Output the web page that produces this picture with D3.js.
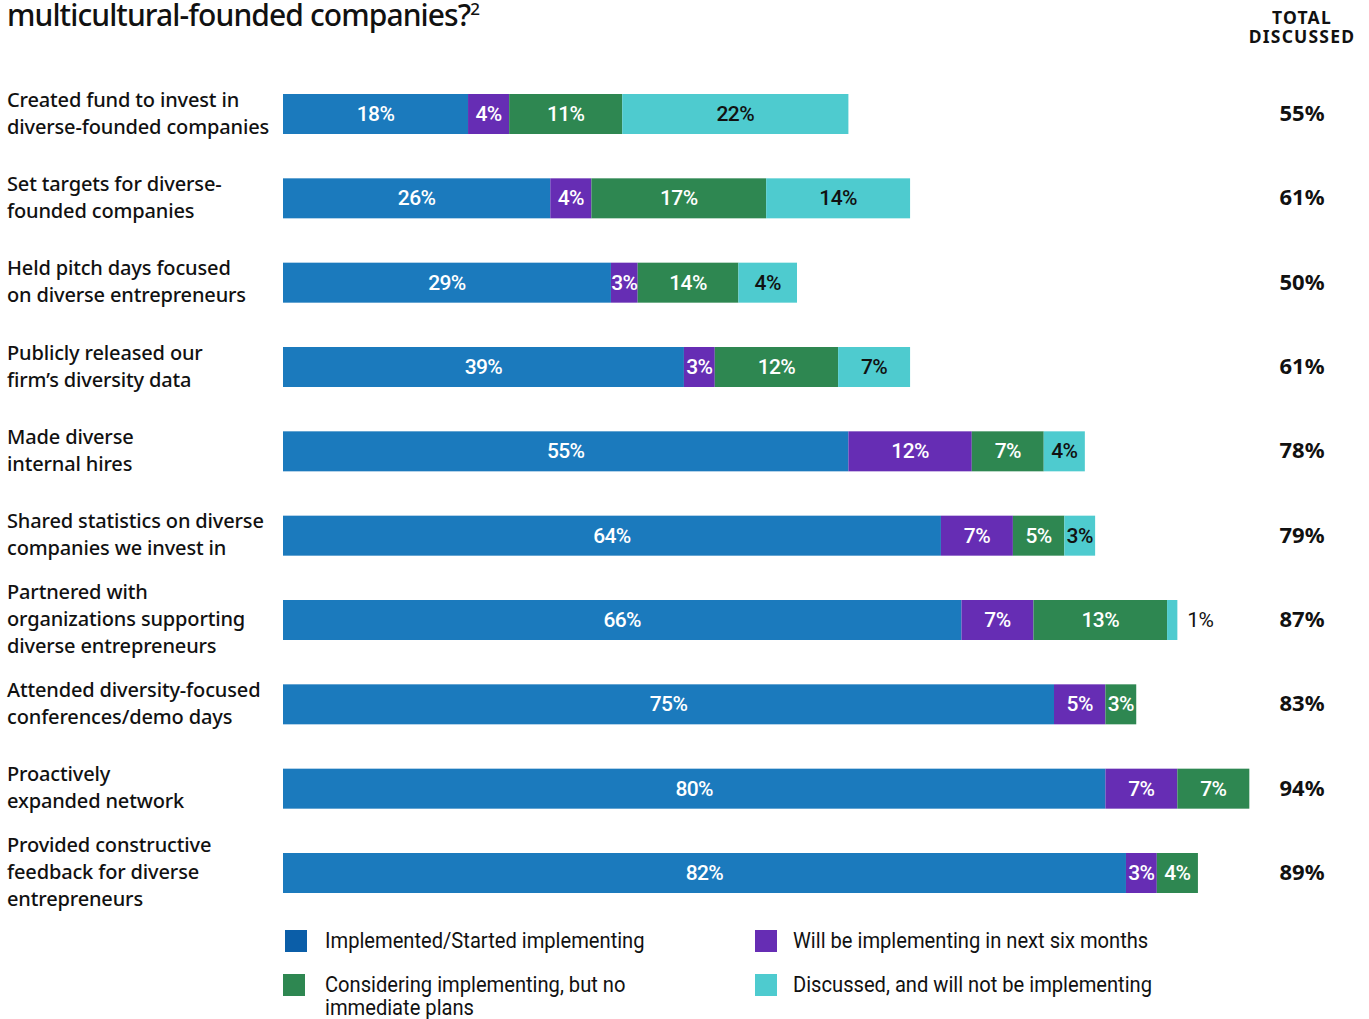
<!DOCTYPE html>
<html>
<head>
<meta charset="utf-8">
<script src="https://cdn.jsdelivr.net/npm/d3@7"></script>
<style>
  body { margin: 0; background: #fff; }
  svg { display: block; }
</style>
</head>
<body>
<div id="chart"></div>
<script>
// rows, top to bottom
var categories = [
    ["Created fund to invest in", "diverse-founded companies"],
    ["Set targets for diverse-", "founded companies"],
    ["Held pitch days focused", "on diverse entrepreneurs"],
    ["Publicly released our", "firm\u2019s diversity data"],
    ["Made diverse", "internal hires"],
    ["Shared statistics on diverse", "companies we invest in"],
    ["Partnered with", "organizations supporting", "diverse entrepreneurs"],
    ["Attended diversity-focused", "conferences/demo days"],
    ["Proactively", "expanded network"],
    ["Provided constructive", "feedback for diverse", "entrepreneurs"]
];

// segment lengths as drawn (row 3 is drawn wider than its printed numbers)
var implemented = [18, 26, 31.9, 39, 55, 64, 66, 75, 80, 82];
var upcoming    = [4, 4, 2.6, 3, 12, 7, 7, 5, 7, 3];
var considering = [11, 17, 9.8, 12, 7, 5, 13, 3, 7, 4];
var declined    = [22, 14, 5.7, 7, 4, 3, 1, 0, 0, 0];

// numbers printed on the segments
var implementedLabels = [18, 26, 29, 39, 55, 64, 66, 75, 80, 82];
var upcomingLabels    = [4, 4, 3, 3, 12, 7, 7, 5, 7, 3];
var consideringLabels = [11, 17, 14, 12, 7, 5, 13, 3, 7, 4];
var declinedLabels    = [22, 14, 4, 7, 4, 3, 1, 0, 0, 0];

var totals = [55, 61, 50, 61, 78, 79, 87, 83, 94, 89];

var seriesNames = [
    "Implemented/Started implementing",
    "Will be implementing in next six months",
    "Considering implementing, but no immediate plans",
    "Discussed, and will not be implementing"
];
var barColors = ["#1b7abd", "#662db4", "#2e8751", "#4ecbcf"];
var legendColors = ["#0b5ea8", "#662db4", "#2e8751", "#4ecbcf"];
var labelColors = ["#fff", "#fff", "#fff", "#111"];

var w = 1369;
var h = 1019;
var barH = 40;

var svg = d3.select("#chart")
    .append("svg")
    .attr("width", w)
    .attr("height", h);

var xscale = d3.scaleLinear()
    .domain([0, 100])
    .range([283, 283 + 1028]);

var yscale = d3.scalePoint()
    .domain(d3.range(categories.length))
    .range([114, 873]);

// title (cut off at the top in the original)
var title = svg.append("text")
    .attr("x", 7)
    .attr("y", 26)
    .attr("font-family", "'Noto Sans', sans-serif")
    .attr("font-size", "30px")
    .attr("font-weight", 500)
    .attr("letter-spacing", "-0.9px")
    .attr("fill", "#111");
title.append("tspan").text("multicultural-founded companies?");
title.append("tspan")
    .attr("font-size", "17px")
    .attr("dy", "-11")
    .attr("letter-spacing", "0")
    .text("2");

svg.selectAll(".head")
    .data(["TOTAL", "DISCUSSED"])
    .enter()
    .append("text")
    .attr("x", 1302)
    .attr("y", function(d, i) { return 24 + i * 19; })
    .attr("text-anchor", "middle")
    .attr("font-family", "'Noto Sans', sans-serif")
    .attr("font-size", "17.5px")
    .attr("font-weight", 700)
    .attr("letter-spacing", "1.2px")
    .attr("fill", "#111")
    .text(function(d) { return d; });

// category labels
var catG = svg.selectAll(".cat")
    .data(categories)
    .enter()
    .append("text")
    .attr("class", "cat")
    .attr("font-family", "'Noto Sans', sans-serif")
    .attr("font-size", "20px")
    .attr("font-weight", 500)
    .attr("letter-spacing", "-0.15px")
    .attr("fill", "#111");

catG.selectAll("tspan")
    .data(function(d, i) {
        return d.map(function(line, j) {
            return { line: line, j: j, n: d.length, row: i };
        });
    })
    .enter()
    .append("tspan")
    .attr("x", 7)
    .attr("y", function(d) {
        return yscale(d.row) + (d.j - (d.n - 1) / 2) * 27 + 6;
    })
    .text(function(d) { return d.line; });

// stack the segments
var rows = categories.map(function(c, i) {
    return {
        row: i,
        values: [implemented[i], upcoming[i], considering[i], declined[i]],
        labels: [implementedLabels[i], upcomingLabels[i], consideringLabels[i], declinedLabels[i]]
    };
});
var segs = [];
rows.forEach(function(r) {
    var x0 = 0;
    r.values.forEach(function(v, k) {
        if (v > 0) {
            segs.push({ row: r.row, k: k, x0: x0, x1: x0 + v, label: r.labels[k] });
        }
        x0 += v;
    });
});

svg.selectAll("rect.seg")
    .data(segs)
    .enter()
    .append("rect")
    .attr("class", "seg")
    .attr("x", function(d) { return xscale(d.x0); })
    .attr("y", function(d) { return yscale(d.row) - barH / 2; })
    .attr("width", function(d) { return xscale(d.x1) - xscale(d.x0); })
    .attr("height", barH)
    .attr("fill", function(d) { return barColors[d.k]; });

svg.selectAll("text.seglabel")
    .data(segs)
    .enter()
    .append("text")
    .attr("class", "seglabel")
    .attr("x", function(d) {
        if (d.x1 - d.x0 < 2) {
            return xscale(d.x1) + 10;
        }
        return (xscale(d.x0) + xscale(d.x1)) / 2;
    })
    .attr("y", function(d) { return yscale(d.row) + 7; })
    .attr("text-anchor", function(d) {
        return (d.x1 - d.x0 < 2) ? "start" : "middle";
    })
    .attr("font-family", "Roboto, sans-serif")
    .attr("font-size", "21px")
    .attr("font-weight", function(d) {
        return (d.x1 - d.x0 < 2) ? 400 : 500;
    })
    .attr("letter-spacing", "-0.6px")
    .attr("fill", function(d) {
        return (d.x1 - d.x0 < 2) ? "#111" : labelColors[d.k];
    })
    .text(function(d) { return d.label + "%"; });

// totals
svg.selectAll("text.total")
    .data(totals)
    .enter()
    .append("text")
    .attr("class", "total")
    .attr("x", 1302)
    .attr("y", function(d, i) { return yscale(i) + 7; })
    .attr("text-anchor", "middle")
    .attr("font-family", "'Noto Sans', sans-serif")
    .attr("font-size", "22px")
    .attr("font-weight", 700)
    .attr("fill", "#111")
    .text(function(d) { return d + "%"; });

// legend
var legendBox = [[285, 930], [755, 930], [283, 974], [755, 974]];
var legendTextX = [325, 793, 325, 793];
var legendLines = [
    [seriesNames[0]],
    [seriesNames[1]],
    ["Considering implementing, but no", "immediate plans"],
    [seriesNames[3]]
];

svg.selectAll("rect.legend")
    .data(seriesNames)
    .enter()
    .append("rect")
    .attr("class", "legend")
    .attr("x", function(d, i) { return legendBox[i][0]; })
    .attr("y", function(d, i) { return legendBox[i][1]; })
    .attr("width", 22)
    .attr("height", 22)
    .attr("fill", function(d, i) { return legendColors[i]; });

// the legend type is a narrow face, so squeeze it horizontally
svg.selectAll("text.legend")
    .data(seriesNames)
    .enter()
    .append("text")
    .attr("class", "legend")
    .attr("transform", function(d, i) {
        return "translate(" + legendTextX[i] + "," + (legendBox[i][1] + 18) + ") scale(0.895,1)";
    })
    .attr("font-family", "Roboto, sans-serif")
    .attr("font-size", "22.5px")
    .attr("fill", "#111")
    .selectAll("tspan")
    .data(function(d, i) { return legendLines[i]; })
    .enter()
    .append("tspan")
    .attr("x", 0)
    .attr("y", function(d, j) { return j * 23; })
    .text(function(d) { return d; });
</script>
</body>
</html>
